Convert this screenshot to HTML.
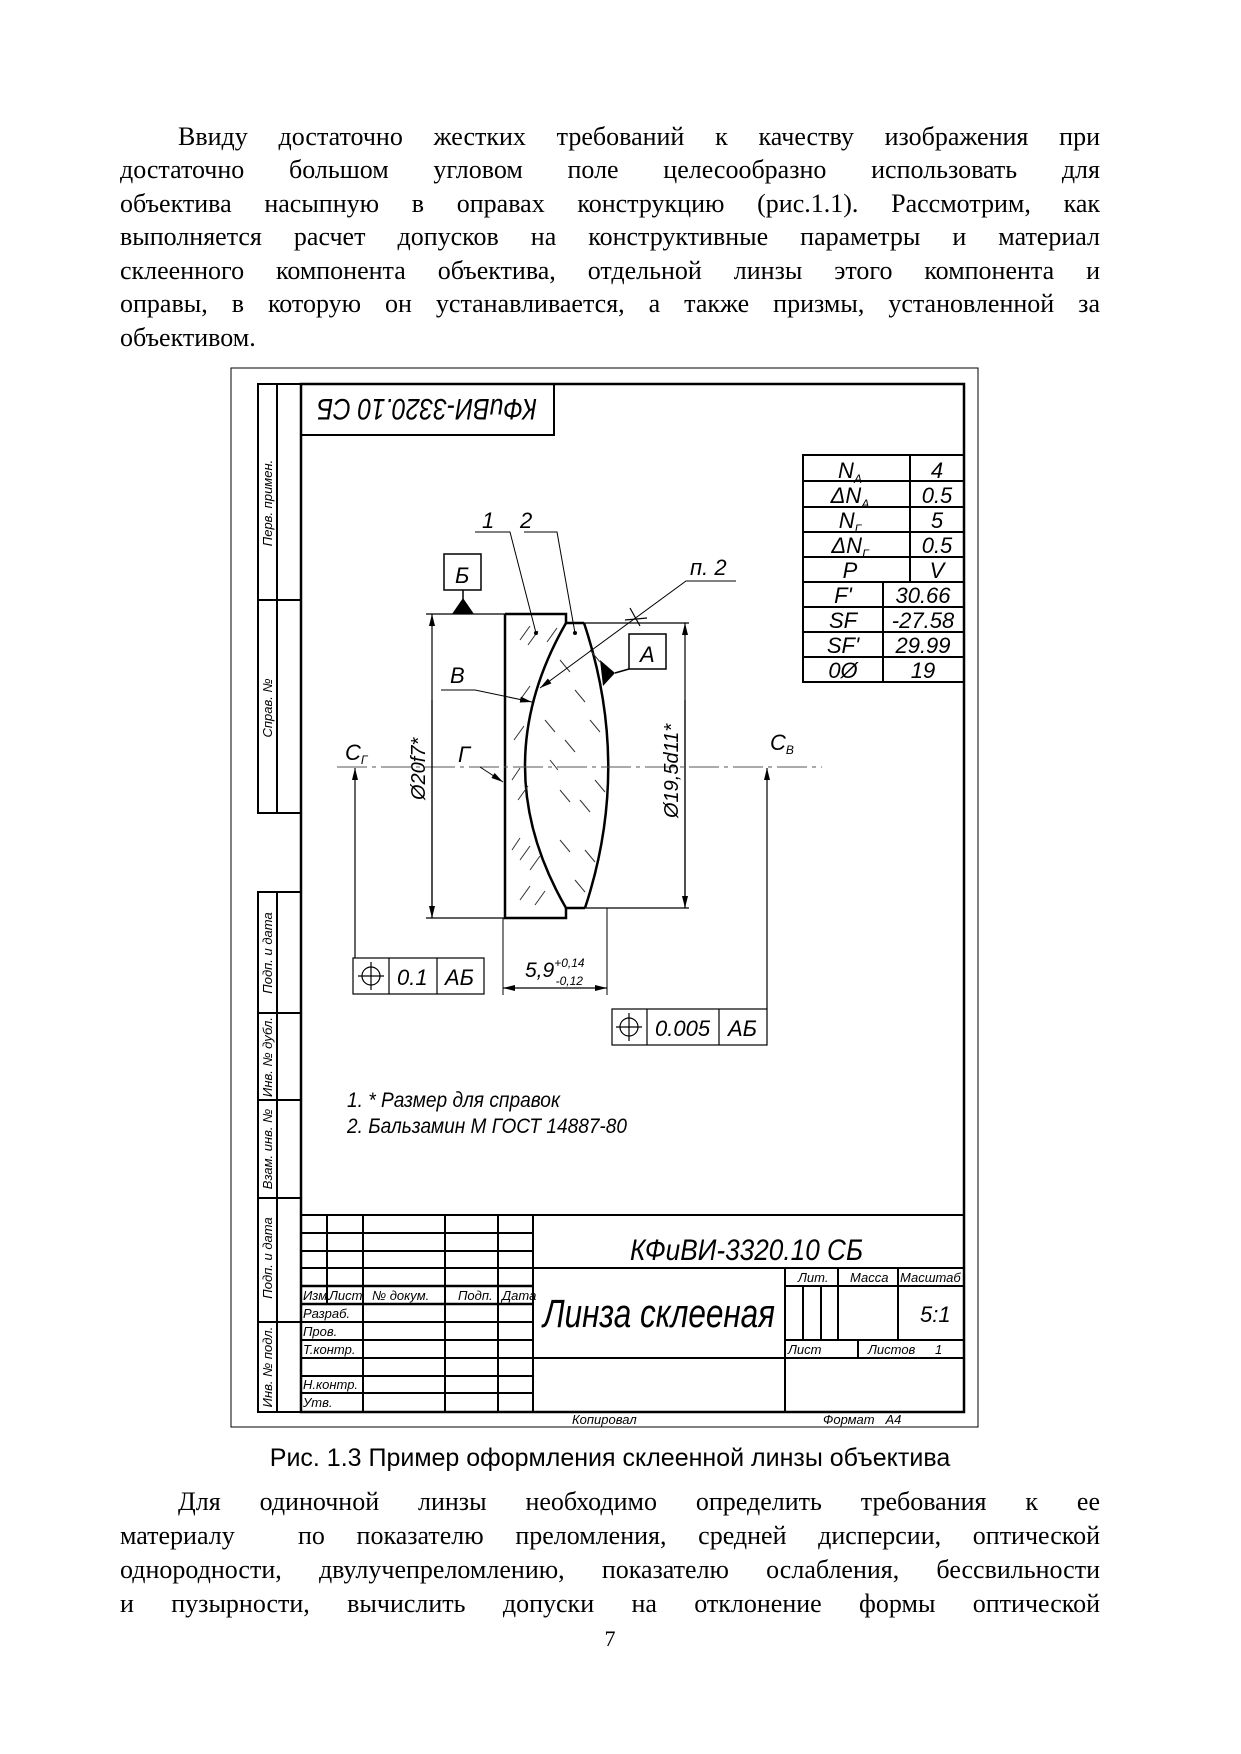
<!DOCTYPE html>
<html><head><meta charset="utf-8"><style>
html,body{margin:0;padding:0;background:#fff;}
body{width:1241px;height:1754px;position:relative;overflow:hidden;}
.p{position:absolute;left:120px;width:980px;font-family:"Liberation Serif",serif;font-size:26px;line-height:26px;text-align:justify;text-align-last:justify;white-space:nowrap;color:#000;}
.p.l{text-align-last:left;}
svg{position:absolute;left:0;top:0;}
svg text{font-family:"Liberation Sans",sans-serif;font-style:italic;fill:#000;}
</style></head><body>
<div class="p" style="top:124px;padding-left:58px;width:922px">Ввиду достаточно жестких требований к качеству изображения при</div>
<div class="p" style="top:157px">достаточно большом угловом поле целесообразно использовать для</div>
<div class="p" style="top:191px">объектива насыпную в оправах конструкцию (рис.1.1). Рассмотрим, как</div>
<div class="p" style="top:224px">выполняется расчет допусков на конструктивные параметры и материал</div>
<div class="p" style="top:258px">склеенного компонента объектива, отдельной линзы этого компонента и</div>
<div class="p" style="top:291px">оправы, в которую он устанавливается, а также призмы, установленной за</div>
<div class="p l" style="top:325px">объективом.</div>

<div class="p" style="top:1489px;padding-left:58px;width:922px">Для одиночной линзы необходимо определить требования к ее</div>
<div class="p" style="top:1523px">материалу &nbsp;по показателю преломления, средней дисперсии, оптической</div>
<div class="p" style="top:1557px">однородности, двулучепреломлению, показателю ослабления, бессвильности</div>
<div class="p" style="top:1591px">и пузырности, вычислить допуски на отклонение формы оптической</div>
<div style="position:absolute;left:0;width:1220px;top:1626px;text-align:center;font-family:'Liberation Serif',serif;font-size:22px">7</div>
<div style="position:absolute;left:0;width:1220px;top:1444px;text-align:center;font-family:'Liberation Sans',sans-serif;font-size:25px">Рис. 1.3 Пример оформления склеенной линзы объектива</div>

<svg width="1241" height="1754" viewBox="0 0 1241 1754">
<defs>
<marker id="ar" markerWidth="12" markerHeight="6" refX="12" refY="3" orient="auto" markerUnits="userSpaceOnUse"><path d="M0,0 L12,3 L0,6 z" fill="#000"/></marker>
</defs>
<rect x="231" y="368" width="747" height="1059" fill="none" stroke="#000" stroke-width="1"/>
<path d="M301,384 H964 V1412 H301 Z" fill="none" stroke="#000" stroke-width="2.5"/>
<g fill="none" stroke="#000" stroke-width="2">
<path d="M301,384 H258 V813 H301 M258,600 H301 M277,384 V813"/>
<path d="M301,892 H258 V1412 H301 M258,1013 H301 M258,1100 H301 M258,1198 H301 M258,1322 H301 M277,892 V1412"/>
</g>
<g font-size="13">
<text transform="translate(272,503) rotate(-90)" text-anchor="middle">Перв. примен.</text>
<text transform="translate(272,708) rotate(-90)" text-anchor="middle">Справ. №</text>
<text transform="translate(272,953) rotate(-90)" text-anchor="middle">Подп. и дата</text>
<text transform="translate(272,1057) rotate(-90)" text-anchor="middle">Инв. № дубл.</text>
<text transform="translate(272,1149) rotate(-90)" text-anchor="middle">Взам. инв. №</text>
<text transform="translate(272,1258) rotate(-90)" text-anchor="middle">Подп. и дата</text>
<text transform="translate(272,1367) rotate(-90)" text-anchor="middle">Инв. № подл.</text>
</g>
<path d="M301,435 H554 V384" fill="none" stroke="#000" stroke-width="2"/>
<text transform="translate(427,410) rotate(180)" font-size="30" text-anchor="middle" dy="11" textLength="220" lengthAdjust="spacingAndGlyphs">КФиВИ-3320.10 СБ</text>

<g fill="none" stroke="#000" stroke-width="2">
<rect x="803" y="455" width="161" height="227"/>
<path d="M803,481H964M803,507H964M803,532H964M803,557H964M803,582H964M803,607H964M803,632H964M803,657H964"/>
<path d="M910,455V582M883,582V682"/>
</g>
<g font-size="22" text-anchor="middle">
<text x="850" y="478">N<tspan font-size="12" dy="5">A</tspan></text>
<text x="937" y="478">4</text>
<text x="850" y="503">ΔN<tspan font-size="12" dy="5">A</tspan></text>
<text x="937" y="503">0.5</text>
<text x="850" y="528">N<tspan font-size="12" dy="5">Г</tspan></text>
<text x="937" y="528">5</text>
<text x="850" y="553">ΔN<tspan font-size="12" dy="5">Г</tspan></text>
<text x="937" y="553">0.5</text>
<text x="850" y="578">P</text>
<text x="937" y="578">V</text>
<text x="843" y="603">F'</text>
<text x="923" y="603">30.66</text>
<text x="843" y="628">SF</text>
<text x="923" y="628">-27.58</text>
<text x="843" y="653">SF'</text>
<text x="923" y="653">29.99</text>
<text x="843" y="678">0Ø</text>
<text x="923" y="678">19</text>
</g>

<g fill="none" stroke="#000">
<path d="M505,614 H566 V623 H584 M505,614 V918 H566 V908 H585" stroke-width="2.5"/>
<path d="M566,623 Q484,766 566,908" stroke-width="2.5"/>
<path d="M584,623 Q632,766 585,908" stroke-width="2.5"/>
<path d="M426,614 H505 M584,623 H689 M426,918 H505 M585,908 H689" stroke-width="1.2"/>
<path d="M337,767 H822" stroke-width="1" stroke-dasharray="30,5,4,5" stroke="#555"/>
<g stroke-width="1" stroke="#333">
<path d="M520,640 l10,-14 M528,645 l10,-14 M547,642 l10,-14 M520,700 l10,-14 M514,740 l10,-14 M518,800 l10,-14 M520,860 l10,-14 M530,870 l10,-14 M520,900 l10,-14 M535,905 l10,-14 M512,850 l8,-12 M512,780 l8,-12"/>
<path d="M560,660 l10,12 M575,690 l10,12 M590,650 l10,12 M545,720 l10,12 M565,740 l10,12 M590,720 l10,12 M560,790 l10,12 M580,800 l10,12 M595,780 l10,12 M560,840 l10,12 M585,850 l10,12 M575,880 l10,12 M550,760 l8,10"/>
</g>
<path d="M432,918 V614" stroke-width="1.2" marker-end="url(#ar)"/>
<path d="M432,700 V918" stroke-width="1.2" marker-end="url(#ar)"/>
<path d="M685,908 V623" stroke-width="1.2" marker-end="url(#ar)"/>
<path d="M685,700 V908" stroke-width="1.2" marker-end="url(#ar)"/>
<path d="M355,958 V768" stroke-width="1.2" marker-end="url(#ar)"/>
<path d="M767,1009 V768" stroke-width="1.2" marker-end="url(#ar)"/>
<path d="M503,918 V995 M607,908 V995" stroke-width="1"/>
<path d="M555,988 H503" stroke-width="1.2" marker-end="url(#ar)"/>
<path d="M555,988 H607" stroke-width="1.2" marker-end="url(#ar)"/>
<path d="M475,532 H510 L536,633 M524,532 H557 L575,633" stroke-width="1"/>
<path d="M736,581 H686 L540,688" stroke-width="1" marker-end="url(#ar)"/>
<path d="M630,608 l10,18 M625,620 l22,-2" stroke-width="1.2"/>
<path d="M441,690 H475 L532,702" stroke-width="1" marker-end="url(#ar)"/>
<path d="M480,767 L503,782" stroke-width="1" marker-end="url(#ar)"/>
<rect x="444" y="554" width="37" height="36" stroke-width="1.5"/>
<path d="M463,590 V600" stroke-width="1.5"/>
<rect x="629" y="634" width="37" height="35" stroke-width="1.5"/>
<path d="M615,673 L629,669" stroke-width="1.5"/>
<rect x="353" y="958" width="131" height="36" stroke-width="1.2"/>
<path d="M389,958V994M437,958V994" stroke-width="1.2"/>
<circle cx="371" cy="976" r="9" stroke-width="1.2"/><path d="M358,976H384M371,962V990" stroke-width="1.2"/>
<rect x="612" y="1009" width="155" height="36" stroke-width="1.2"/>
<path d="M647,1009V1045M719,1009V1045" stroke-width="1.2"/>
<circle cx="629" cy="1027" r="9" stroke-width="1.2"/><path d="M616,1027H642M629,1013V1041" stroke-width="1.2"/>
</g>
<path d="M452,614 L463,598 L474,614 Z" fill="#000"/>
<path d="M600,660 L615,673 L603,686 Z" fill="#000"/>
<circle cx="536" cy="633" r="2" fill="#000"/>
<circle cx="575" cy="633" r="2" fill="#000"/>
<g font-size="22">
<text x="482" y="528">1</text>
<text x="520" y="528">2</text>
<text x="690" y="575">п. 2</text>
<text x="455" y="583">Б</text>
<text x="640" y="662">А</text>
<text x="450" y="683">В</text>
<text x="458" y="762">Г</text>
<text x="345" y="760">С<tspan font-size="12" dy="4">Г</tspan></text>
<text x="770" y="750">С<tspan font-size="12" dy="4">В</tspan></text>
<text transform="translate(425,800) rotate(-90)" font-size="20">Ø20f7*</text>
<text transform="translate(678,818) rotate(-90)" font-size="20">Ø19,5d11*</text>
<text x="525" y="977" font-size="21">5,9<tspan font-size="12" dy="-10">+0,14</tspan><tspan font-size="12" dx="-29" dy="18">-0,12</tspan></text>
<text x="397" y="985">0.1</text>
<text x="445" y="985">АБ</text>
<text x="655" y="1036">0.005</text>
<text x="728" y="1036">АБ</text>
<text x="347" y="1107" font-size="21" textLength="213" lengthAdjust="spacingAndGlyphs">1. * Размер для справок</text>
<text x="347" y="1133" font-size="21" textLength="280" lengthAdjust="spacingAndGlyphs">2. Бальзамин М ГОСТ 14887-80</text>
</g>

<g fill="none" stroke="#000" stroke-width="2">
<path d="M301,1215 H964"/>
<path d="M327,1215V1304M363,1215V1412M445,1215V1412M498,1215V1412M533,1215V1412"/>
<path d="M301,1233H533M301,1251H533M301,1268H533M301,1322H533M301,1340H533M301,1358H533M301,1376H533M301,1393H533"/>
<path d="M301,1286H533M301,1304H533" stroke-width="2.5"/>
<path d="M533,1268H964M533,1358H964M785,1268V1412M785,1286H964M785,1340H964"/>
<path d="M838,1268V1340M898,1268V1340M803,1286V1340M821,1286V1340M858,1340V1358"/>
</g>
<g font-size="13">
<text x="303" y="1300">Изм.</text><text x="329" y="1300">Лист</text>
<text x="372" y="1300">№ докум.</text><text x="458" y="1300">Подп.</text><text x="502" y="1300">Дата</text>
<text x="303" y="1318">Разраб.</text><text x="303" y="1336">Пров.</text><text x="303" y="1354">Т.контр.</text>
<text x="303" y="1389">Н.контр.</text><text x="303" y="1407">Утв.</text>
<text x="798" y="1282">Лит.</text><text x="850" y="1282">Масса</text><text x="900" y="1282">Масштаб</text>
<text x="788" y="1354">Лист</text><text x="868" y="1354">Листов</text><text x="935" y="1354">1</text>
<text x="572" y="1424">Копировал</text><text x="823" y="1424">Формат &nbsp;&nbsp;А4</text>
</g>
<text x="920" y="1322" font-size="22">5:1</text>
<text x="630" y="1260" font-size="30" textLength="233" lengthAdjust="spacingAndGlyphs">КФиВИ-3320.10 СБ</text>
<text x="543" y="1327" font-size="40" textLength="232" lengthAdjust="spacingAndGlyphs">Линза склееная</text>
</svg>
</body></html>
